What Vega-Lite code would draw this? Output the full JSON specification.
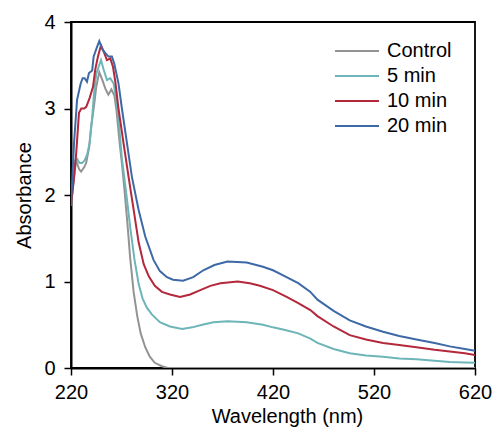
{
  "$schema": "https://vega.github.io/schema/vega-lite/v6.json",
  "width": 404,
  "height": 346,
  "autosize": "none",
  "padding": {"left": 71, "top": 22, "right": 20, "bottom": 60},
  "background": "white",
  "view": {"stroke": "black", "strokeWidth": 1.8},
  "config": {
    "font": "Liberation Sans",
    "axis": {
      "grid": false,
      "domainColor": "black",
      "domainWidth": 2,
      "tickColor": "black",
      "tickWidth": 1.5,
      "tickSize": 7,
      "labelFontSize": 20,
      "labelColor": "black",
      "labelFlush": false,
      "labelOverlap": false,
      "titleFontSize": 20,
      "titleFontWeight": "normal",
      "titleColor": "black",
      "zindex": 1
    },
    "legend": {
      "labelFontSize": 20,
      "labelColor": "black"
    }
  },
  "data": {
    "values": [
      {"w":220,"a":1.88,"s":"Control"},{"w":222,"a":2.1,"s":"Control"},{"w":225,"a":2.4,"s":"Control"},{"w":228,"a":2.3,"s":"Control"},{"w":230,"a":2.27,"s":"Control"},{"w":233,"a":2.32,"s":"Control"},{"w":235,"a":2.37,"s":"Control"},{"w":238,"a":2.55,"s":"Control"},{"w":240,"a":2.79,"s":"Control"},{"w":243,"a":3.05,"s":"Control"},{"w":245,"a":3.25,"s":"Control"},{"w":248,"a":3.42,"s":"Control"},{"w":251,"a":3.33,"s":"Control"},{"w":254,"a":3.23,"s":"Control"},{"w":257,"a":3.16,"s":"Control"},{"w":260,"a":3.22,"s":"Control"},{"w":263,"a":3.15,"s":"Control"},{"w":265,"a":2.98,"s":"Control"},{"w":268,"a":2.62,"s":"Control"},{"w":271,"a":2.3,"s":"Control"},{"w":273,"a":2.05,"s":"Control"},{"w":276,"a":1.65,"s":"Control"},{"w":278.6,"a":1.27,"s":"Control"},{"w":282,"a":0.88,"s":"Control"},{"w":285.6,"a":0.6,"s":"Control"},{"w":289,"a":0.4,"s":"Control"},{"w":293.5,"a":0.24,"s":"Control"},{"w":298,"a":0.13,"s":"Control"},{"w":303,"a":0.06,"s":"Control"},{"w":310,"a":0.02,"s":"Control"},{"w":316,"a":0,"s":"Control"},{"w":340,"a":0,"s":"Control"},{"w":620,"a":0,"s":"Control"},

      {"w":220,"a":1.88,"s":"5 min"},{"w":222,"a":2.15,"s":"5 min"},{"w":224,"a":2.4,"s":"5 min"},{"w":226,"a":2.42,"s":"5 min"},{"w":228.5,"a":2.37,"s":"5 min"},{"w":231,"a":2.37,"s":"5 min"},{"w":233.5,"a":2.4,"s":"5 min"},{"w":236,"a":2.47,"s":"5 min"},{"w":238.4,"a":2.6,"s":"5 min"},{"w":241,"a":2.9,"s":"5 min"},{"w":243,"a":3.2,"s":"5 min"},{"w":245,"a":3.4,"s":"5 min"},{"w":247.3,"a":3.48,"s":"5 min"},{"w":249.7,"a":3.56,"s":"5 min"},{"w":252.3,"a":3.45,"s":"5 min"},{"w":255.6,"a":3.33,"s":"5 min"},{"w":258.9,"a":3.35,"s":"5 min"},{"w":262.2,"a":3.29,"s":"5 min"},{"w":265.5,"a":3.05,"s":"5 min"},{"w":268,"a":2.75,"s":"5 min"},{"w":270.4,"a":2.42,"s":"5 min"},{"w":274.7,"a":2.02,"s":"5 min"},{"w":278.6,"a":1.63,"s":"5 min"},{"w":282.9,"a":1.25,"s":"5 min"},{"w":287,"a":0.97,"s":"5 min"},{"w":291,"a":0.8,"s":"5 min"},{"w":295,"a":0.7,"s":"5 min"},{"w":300,"a":0.62,"s":"5 min"},{"w":308,"a":0.53,"s":"5 min"},{"w":318,"a":0.48,"s":"5 min"},{"w":330,"a":0.45,"s":"5 min"},{"w":340,"a":0.47,"s":"5 min"},{"w":350,"a":0.5,"s":"5 min"},{"w":361,"a":0.53,"s":"5 min"},{"w":375,"a":0.54,"s":"5 min"},{"w":394,"a":0.53,"s":"5 min"},{"w":410,"a":0.5,"s":"5 min"},{"w":420,"a":0.47,"s":"5 min"},{"w":432,"a":0.44,"s":"5 min"},{"w":445,"a":0.4,"s":"5 min"},{"w":457,"a":0.34,"s":"5 min"},{"w":464,"a":0.29,"s":"5 min"},{"w":480,"a":0.22,"s":"5 min"},{"w":496,"a":0.17,"s":"5 min"},{"w":512,"a":0.145,"s":"5 min"},{"w":529,"a":0.13,"s":"5 min"},{"w":545,"a":0.11,"s":"5 min"},{"w":562,"a":0.1,"s":"5 min"},{"w":580,"a":0.085,"s":"5 min"},{"w":595,"a":0.07,"s":"5 min"},{"w":610,"a":0.065,"s":"5 min"},{"w":620,"a":0.06,"s":"5 min"},

      {"w":220,"a":1.88,"s":"10 min"},{"w":223,"a":2.2,"s":"10 min"},{"w":225.2,"a":2.49,"s":"10 min"},{"w":227.9,"a":2.95,"s":"10 min"},{"w":230.2,"a":3.0,"s":"10 min"},{"w":233,"a":3.0,"s":"10 min"},{"w":235.1,"a":3.02,"s":"10 min"},{"w":238.4,"a":3.12,"s":"10 min"},{"w":241.8,"a":3.25,"s":"10 min"},{"w":244,"a":3.45,"s":"10 min"},{"w":246.7,"a":3.6,"s":"10 min"},{"w":249.7,"a":3.73,"s":"10 min"},{"w":252.3,"a":3.66,"s":"10 min"},{"w":255.6,"a":3.56,"s":"10 min"},{"w":258.9,"a":3.58,"s":"10 min"},{"w":261.6,"a":3.48,"s":"10 min"},{"w":264,"a":3.3,"s":"10 min"},{"w":267,"a":3.0,"s":"10 min"},{"w":272,"a":2.6,"s":"10 min"},{"w":277,"a":2.21,"s":"10 min"},{"w":282,"a":1.83,"s":"10 min"},{"w":287,"a":1.45,"s":"10 min"},{"w":292,"a":1.2,"s":"10 min"},{"w":297,"a":1.06,"s":"10 min"},{"w":303,"a":0.95,"s":"10 min"},{"w":310,"a":0.88,"s":"10 min"},{"w":318,"a":0.85,"s":"10 min"},{"w":328,"a":0.82,"s":"10 min"},{"w":338,"a":0.85,"s":"10 min"},{"w":348,"a":0.9,"s":"10 min"},{"w":358,"a":0.95,"s":"10 min"},{"w":368,"a":0.98,"s":"10 min"},{"w":385,"a":1.0,"s":"10 min"},{"w":397,"a":0.98,"s":"10 min"},{"w":407,"a":0.95,"s":"10 min"},{"w":420,"a":0.9,"s":"10 min"},{"w":434,"a":0.82,"s":"10 min"},{"w":445,"a":0.75,"s":"10 min"},{"w":457,"a":0.67,"s":"10 min"},{"w":464,"a":0.6,"s":"10 min"},{"w":480,"a":0.48,"s":"10 min"},{"w":496,"a":0.38,"s":"10 min"},{"w":512,"a":0.33,"s":"10 min"},{"w":529,"a":0.29,"s":"10 min"},{"w":545,"a":0.265,"s":"10 min"},{"w":562,"a":0.24,"s":"10 min"},{"w":580,"a":0.21,"s":"10 min"},{"w":595,"a":0.19,"s":"10 min"},{"w":610,"a":0.17,"s":"10 min"},{"w":620,"a":0.15,"s":"10 min"},

      {"w":220,"a":1.88,"s":"20 min"},{"w":223,"a":2.6,"s":"20 min"},{"w":226,"a":3.1,"s":"20 min"},{"w":229.6,"a":3.29,"s":"20 min"},{"w":231.5,"a":3.35,"s":"20 min"},{"w":233.5,"a":3.35,"s":"20 min"},{"w":235.8,"a":3.31,"s":"20 min"},{"w":237.8,"a":3.41,"s":"20 min"},{"w":241,"a":3.44,"s":"20 min"},{"w":242.4,"a":3.6,"s":"20 min"},{"w":245.7,"a":3.71,"s":"20 min"},{"w":248,"a":3.78,"s":"20 min"},{"w":250.7,"a":3.69,"s":"20 min"},{"w":254,"a":3.64,"s":"20 min"},{"w":257.2,"a":3.6,"s":"20 min"},{"w":260.5,"a":3.6,"s":"20 min"},{"w":262.8,"a":3.52,"s":"20 min"},{"w":267,"a":3.29,"s":"20 min"},{"w":270.4,"a":3.0,"s":"20 min"},{"w":275.4,"a":2.6,"s":"20 min"},{"w":280.3,"a":2.21,"s":"20 min"},{"w":286.9,"a":1.83,"s":"20 min"},{"w":293.5,"a":1.52,"s":"20 min"},{"w":301.7,"a":1.25,"s":"20 min"},{"w":308,"a":1.12,"s":"20 min"},{"w":315,"a":1.05,"s":"20 min"},{"w":321,"a":1.02,"s":"20 min"},{"w":331,"a":1.01,"s":"20 min"},{"w":341,"a":1.05,"s":"20 min"},{"w":351,"a":1.13,"s":"20 min"},{"w":362,"a":1.19,"s":"20 min"},{"w":375,"a":1.23,"s":"20 min"},{"w":394,"a":1.22,"s":"20 min"},{"w":410,"a":1.17,"s":"20 min"},{"w":420,"a":1.13,"s":"20 min"},{"w":430,"a":1.07,"s":"20 min"},{"w":445,"a":0.98,"s":"20 min"},{"w":457,"a":0.88,"s":"20 min"},{"w":464,"a":0.79,"s":"20 min"},{"w":480,"a":0.66,"s":"20 min"},{"w":496,"a":0.55,"s":"20 min"},{"w":512,"a":0.48,"s":"20 min"},{"w":529,"a":0.42,"s":"20 min"},{"w":545,"a":0.37,"s":"20 min"},{"w":562,"a":0.33,"s":"20 min"},{"w":580,"a":0.29,"s":"20 min"},{"w":595,"a":0.25,"s":"20 min"},{"w":610,"a":0.22,"s":"20 min"},{"w":620,"a":0.2,"s":"20 min"}
    ]
  },
  "mark": {"type": "line", "strokeWidth": 2, "clip": true},
  "encoding": {
    "x": {
      "field": "w",
      "type": "quantitative",
      "scale": {"domain": [220, 620], "nice": false, "zero": false},
      "axis": {"values": [220, 320, 420, 520, 620], "format": "d", "title": "Wavelength (nm)", "labelPadding": 7, "titlePadding": 4, "titleX": 216}
    },
    "y": {
      "field": "a",
      "type": "quantitative",
      "scale": {"domain": [0, 4], "nice": false},
      "axis": {"values": [0, 1, 2, 3, 4], "format": "d", "title": "Absorbance", "labelPadding": 9, "titlePadding": 9}
    },
    "color": {
      "field": "s",
      "type": "nominal",
      "scale": {
        "domain": ["Control", "5 min", "10 min", "20 min"],
        "range": ["#939393", "#6db5b9", "#b3283a", "#3d69a6"]
      },
      "legend": {
        "title": null,
        "orient": "none",
        "legendX": 263,
        "legendY": 17,
        "symbolType": "M-1,0H3",
        "symbolSize": 484,
        "symbolStrokeWidth": 2,
        "labelOffset": 29,
        "rowPadding": 3
      }
    },
    "order": {"field": "s"}
  }
}
